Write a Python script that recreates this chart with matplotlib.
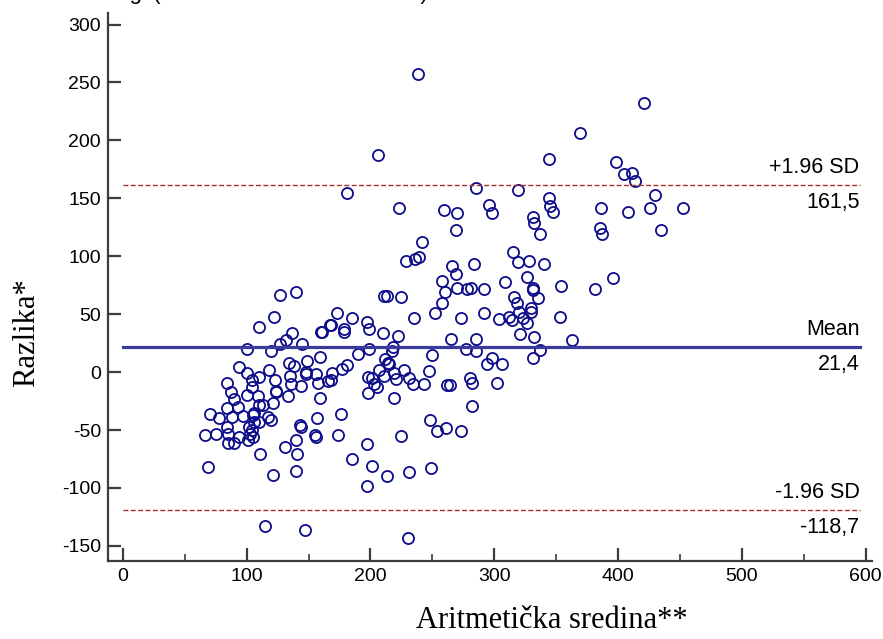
import numpy as np
import matplotlib
matplotlib.use("Agg")
import matplotlib.pyplot as plt
from matplotlib.ticker import MultipleLocator

plt.rcParams["axes.unicode_minus"] = False

# aritmetička sredina (x) i razlika (y) za svaki par mjerenja
sredina = [
    238, 206, 181, 285, 223, 259, 270, 269, 242, 239, 236, 229, 266, 284, 269, 258,
    270, 278, 281, 260, 258, 252, 273, 235, 213, 211, 225, 173, 185, 197, 199, 179,
    179, 210, 222, 168, 265, 285,
    277, 285, 199, 218, 217, 190, 250, 212, 214, 215, 181, 177, 207, 211, 219, 227,
    198, 201, 203, 205, 231, 234, 221, 247, 243, 262, 264, 280, 282, 198, 219, 169,
    168, 282, 176, 174, 197, 225, 248, 254, 261, 273, 185, 201, 213, 197, 231, 249,
    230,
    421, 369, 344, 398, 405, 411, 414, 319, 430, 344, 345, 347, 296, 298, 386, 408,
    426, 452, 331, 332, 337, 385, 387, 435, 315, 319, 328, 340, 326, 309, 396,
    354, 381, 292, 331, 331, 335, 316, 318, 292, 304, 312, 314, 320, 323, 326, 330,
    330, 353, 321, 332, 363, 337, 331, 298, 294, 306, 302,
    122, 110, 167, 161, 160, 137, 132, 127, 145, 100, 120, 159, 149, 148, 134, 138,
    94, 100, 118, 110, 84, 104, 104, 123, 124, 124, 135, 136, 144, 148, 156, 158,
    166, 87, 90, 100, 109, 110, 133, 121, 113, 159, 84, 93, 70, 78, 84, 88,
    97, 106, 105, 106, 110, 117, 120, 102, 104, 103, 66, 75, 85, 94, 101, 105,
    157, 143, 144, 155, 156, 140, 131, 111, 141, 69, 121, 140, 115, 147, 127, 140,
    85, 90,
]
razlika = [
    257, 187, 155, 159, 142, 140, 137, 123, 112, 99, 98, 96, 92, 93, 85, 79,
    73, 72, 73, 69, 60, 51, 47, 47, 66, 66, 65, 51, 47, 43, 37, 37,
    35, 34, 31, 41, 29, 29,
    20, 18, 20, 22, 18, 16, 15, 11, 8, 7, 6, 3, 2, -3, -1, 2,
    -4, -5, -10, -13, -5, -10, -6, 1, -10, -11, -11, -5, -9, -18, -22, -1,
    -7, -29, -36, -54, -62, -55, -41, -51, -48, -51, -75, -81, -90, -98, -86, -83,
    -143,
    232, 206, 184, 181, 171, 172, 165, 157, 153, 150, 143, 138, 144, 137, 142, 138,
    142, 142, 134, 129, 119, 124, 119, 123, 104, 95, 96, 93, 82, 78, 81,
    74, 72, 72, 73, 71, 64, 65, 60, 51, 46, 48, 45, 52, 47, 42, 55,
    52, 48, 33, 30, 28, 19, 12, 12, 7, 7, -9,
    48, 39, 41, 35, 35, 34, 28, 24, 24, 20, 18, 13, 10, 0, 8, 5,
    4, -1, 2, -4, -9, -7, -13, -7, -16, -17, -3, -10, -12, -2, -2, -9,
    -8, -17, -23, -20, -21, -28, -21, -27, -28, -22, -31, -30, -36, -40, -47, -39,
    -38, -35, -37, -43, -43, -39, -41, -47, -50, -53, -54, -53, -61, -56, -59, -56,
    -40, -46, -47, -54, -56, -59, -65, -71, -71, -82, -89, -85, -133, -136, 67, 69,
    -53, -61,
]

mean_diff = 21.4
sd_upper = 161.5
sd_lower = -118.7
x_ticks = [0, 100, 200, 300, 400, 500, 600]
y_ticks = [-150, -100, -50, 0, 50, 100, 150, 200, 250, 300]

navy = "#0c0c8a"
line_blue = "#3b3b9e"
dash_red = "#a5302a"
axis_col = "#3c3c3c"

fig = plt.figure(figsize=(8.83, 6.39), dpi=100)
ax = fig.add_axes([0.1223, 0.1221, 0.8652, 0.8576])

ax.plot(sredina, razlika, linestyle="none", marker="o", markersize=8,
        markerfacecolor="none", markeredgecolor=navy, markeredgewidth=1.3)

x0, x1 = 0, 595
ax.plot([x0, x1], [mean_diff, mean_diff], color=line_blue, lw=2.3)
for v in (sd_upper, sd_lower):
    ax.plot([x0, x1], [v, v], color=dash_red, lw=1.0, dashes=(3.5, 1.8))

lab_kw = dict(ha="right", fontsize=15.5, family=["Liberation Sans", "DejaVu Sans"])
ax.text(x1, mean_diff + 6, "Mean", va="bottom", **lab_kw)
ax.text(x1, mean_diff - 6, "21,4", va="top", **lab_kw)
ax.text(x1, sd_upper + 6, "+1.96 SD", va="bottom", **lab_kw)
ax.text(x1, sd_upper - 6, "161,5", va="top", **lab_kw)
ax.text(x1, sd_lower + 6, "-1.96 SD", va="bottom", **lab_kw)
ax.text(x1, sd_lower - 6, "-118,7", va="top", **lab_kw)

ax.set_xlim(-12, 605)
ax.set_ylim(-163, 310)
ax.set_xticks(x_ticks)
ax.set_yticks(y_ticks)
ax.xaxis.set_minor_locator(MultipleLocator(50))

for s in ("top", "right"):
    ax.spines[s].set_visible(False)
for s in ("left", "bottom"):
    ax.spines[s].set_color(axis_col)
    ax.spines[s].set_linewidth(1.6)

ax.tick_params(which="major", direction="in", length=9.5, width=1.6, color=axis_col,
               labelsize=14, pad=5)
ax.tick_params(which="minor", direction="in", length=5, width=1.2, color=axis_col)
for t in ax.get_xticklabels() + ax.get_yticklabels():
    t.set_family(["Liberation Sans Narrow", "Liberation Sans", "DejaVu Sans"])

ax.set_xlabel("Aritmetička sredina**", fontsize=22, family="Liberation Serif")
ax.set_ylabel("Razlika*", fontsize=22, family="Liberation Serif")
ax.xaxis.set_label_coords(0.581, -0.082)
ax.yaxis.set_label_coords(-0.088, 0.416)

# naslov je u originalu odrezan na vrhu slike
fig.text(428 / 883, 1 + 1 / 639, "Razlika drugi (Metoda A minus Metoda B)",
         ha="right", va="baseline", fontsize=16, family="Liberation Sans")

fig.savefig("out.png", dpi=100)
